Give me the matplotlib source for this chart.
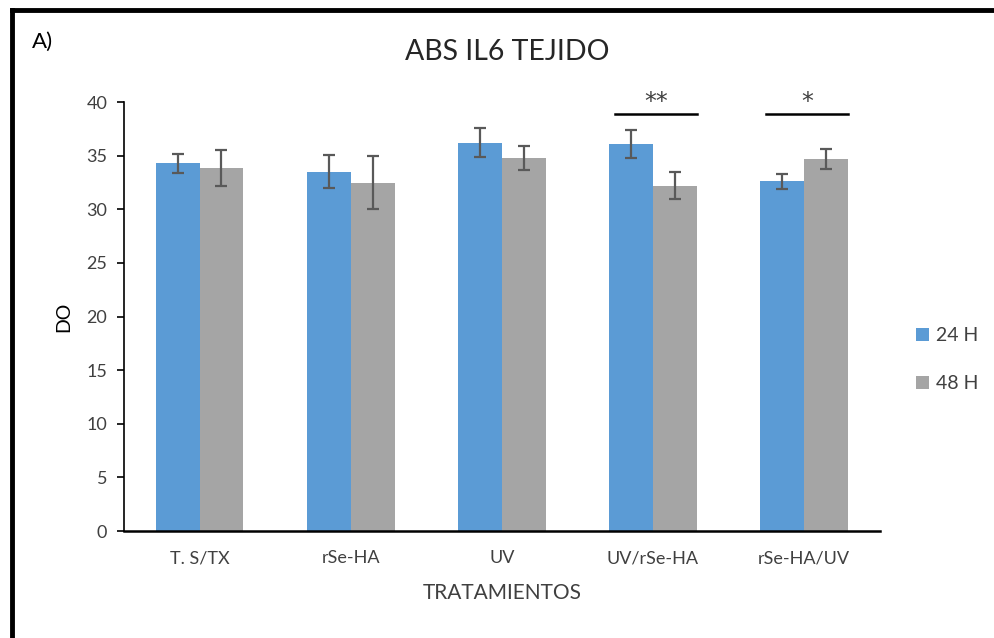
from matplotlib import pyplot as plt
from matplotlib.lines import Line2D
import numpy as np

plt.rcParams['font.family'] = ['Lato', 'DejaVu Sans']

categories = ['T. S/TX', 'rSe-HA', 'UV', 'UV/rSe-HA', 'rSe-HA/UV']
vals_24 = [34.3, 33.5, 36.2, 36.1, 32.6]
err_24 = [0.9, 1.55, 1.35, 1.3, 0.7]
vals_48 = [33.85, 32.5, 34.8, 32.2, 34.7]
err_48 = [1.7, 2.5, 1.1, 1.25, 0.9]

# significance marks: (category index, label, height)
sig_groups = [3, 4]
sig_labels = ['**', '*']
sig_height = 38.85

blue = '#5b9bd5'
gray = '#a5a5a5'
ecol = '#595959'

fig = plt.figure(figsize=(9.94, 6.38), dpi=100)
ax = fig.add_axes([0.1247, 0.1677, 0.7603, 0.6723])

x = np.arange(len(categories))
w = 0.29
ax.bar(x - w/2, vals_24, w, color=blue, label='24 H')
ax.bar(x + w/2, vals_48, w, color=gray, label='48 H')
ax.errorbar(x - w/2, vals_24, yerr=err_24, fmt='none', ecolor=ecol, elinewidth=1.6, capsize=4, capthick=1.6)
ax.errorbar(x + w/2, vals_48, yerr=err_48, fmt='none', ecolor=ecol, elinewidth=1.6, capsize=4, capthick=1.6)

for i, lab in zip(sig_groups, sig_labels):
    ax.plot([i - w + 0.04, i + w - 0.0], [sig_height, sig_height], color='black', lw=1.8)
    ax.text(i + 0.02, sig_height + 0.05, lab, ha='center', va='bottom', fontsize=17, color='#404040',
            family='DejaVu Sans')

ax.set_xlim(-0.5, len(categories) - 0.5)
ax.set_ylim(0, 40)
ax.set_yticks(range(0, 41, 5))
ax.set_xticks(x)
ax.set_xticklabels(categories)
ax.tick_params(axis='x', length=0, pad=14, labelsize=13, colors='#404040')
ax.tick_params(axis='y', length=5, width=1.2, direction='out', labelsize=13, colors='black', labelcolor='#404040', pad=7)
for s in ['top', 'right']:
    ax.spines[s].set_visible(False)
ax.spines['left'].set_linewidth(1.2)
ax.spines['bottom'].set_linewidth(1.8)

ax.set_xlabel('TRATAMIENTOS', fontsize=15, color='#404040', labelpad=12)
ax.set_ylabel('DO', fontsize=14, color='black', labelpad=10)
fig.text(0.51, 0.918, 'ABS IL6 TEJIDO', ha='center', va='center', fontsize=20.5, color='#262626')
fig.text(0.043, 0.935, 'A)', ha='center', va='center', fontsize=16, color='black')

ax.legend(loc='center left', bbox_to_anchor=(1.025, 0.40), frameon=False, fontsize=14,
          handlelength=0.65, handleheight=0.65, handletextpad=0.35, labelspacing=1.6, labelcolor='#404040')

# frame lines (top and left)
fig.add_artist(Line2D([0.012, 1.0], [0.984, 0.984], color='black', lw=3.5, transform=fig.transFigure))
fig.add_artist(Line2D([0.012, 0.012], [0.0, 0.984], color='black', lw=3.5, transform=fig.transFigure))

fig.savefig('out.png', dpi=100, facecolor='white')
